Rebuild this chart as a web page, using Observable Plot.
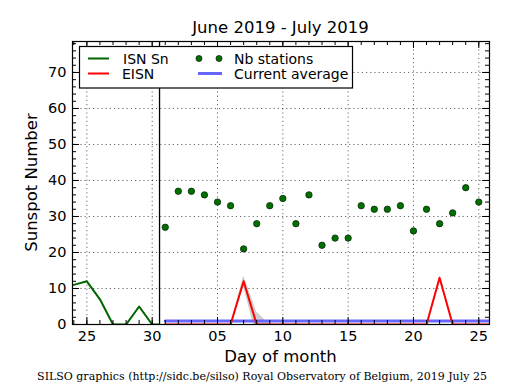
<!DOCTYPE html>
<html><head><meta charset="utf-8">
<script src="https://cdn.jsdelivr.net/npm/d3@7"></script>
<script src="https://cdn.jsdelivr.net/npm/@observablehq/plot@0.6"></script>
<style>body{margin:0;background:#fff;} svg{display:block;}</style>
</head><body><div id="chart"></div>
<script>
// ---- data ----
const isnDays = ["2019-06-24","2019-06-25","2019-06-26","2019-06-27","2019-06-28","2019-06-29","2019-06-30","2019-06-30T13:30"];
const isnValues = [11,12,7,0,0,5,0,0];
const eisnDays = d3.range(1,27).map(d => `2019-07-${String(d).padStart(2,"0")}`);
const eisnValues = [0,0,0,0,0,0,12,0,0,0,0,0,0,0,0,0,0,0,0,0,0,13,0,0,0,0];
const eisnErrors = [0,0,0,0,0,0,1.5,3.5,0,0,0,0,0,0,0,0,0,0,0,0,0,0.5,0,0,0,0];
const stationDays = d3.range(1,26).map(d => `2019-07-${String(d).padStart(2,"0")}`);
const stationValues = [27,37,37,36,34,33,21,28,33,35,28,36,22,24,24,33,32,32,33,26,32,28,31,38,34];
const currentAverage = 1;
const separatorDay = "2019-06-30T13:30";
const xTickDays = ["2019-06-25","2019-06-30","2019-07-05","2019-07-10","2019-07-15","2019-07-20","2019-07-25"];
const xTickLabels = ["25","30","05","10","15","20","25"];
const yTicks = [0,10,20,30,40,50,60,70];
const titleText = "June 2019 - July 2019";
const captionText = "SILSO graphics (http://sidc.be/silso) Royal Observatory of Belgium, 2019 July 25";

// ---- build ----
const P = s => new Date(s.length === 10 ? s + "T00:00Z" : s + "Z");
const isn = isnDays.map((d,i) => ({date: P(d), v: isnValues[i]}));
const eisn = eisnDays.map((d,i) => ({date: P(d), v: eisnValues[i], lo: eisnValues[i]-eisnErrors[i], hi: eisnValues[i]+eisnErrors[i]}));
const avg = eisnDays.map(d => ({date: P(d), v: currentAverage}));
const stations = stationDays.map((d,i) => ({date: P(d), v: stationValues[i]}));
const majors = xTickDays.map(P);
const minorDays = d3.utcDay.range(P("2019-06-24"), P("2019-07-26"));
const yMinor = d3.range(0, 79, 2);

const W = 515, H = 390, mL = 72, mR = 26, mT = 41, mB = 66;
const pw = W - mL - mR, ph = H - mT - mB;
const grid = {stroke: "#000", strokeWidth: 0.8, strokeOpacity: 0.75, strokeDasharray: "1.2,3"};

const plot = Plot.plot({
  width: W, height: H,
  marginLeft: mL, marginRight: mR, marginTop: mT, marginBottom: mB,
  style: {fontFamily: "DejaVu Sans", fontSize: "14.5px", color: "#000", background: "#fff"},
  x: {type: "utc", domain: [new Date(Date.UTC(2019,5,23,21,36)), new Date(Date.UTC(2019,6,25,19,40))], label: null},
  y: {domain: [0, 78.6], label: null},
  marks: [
    Plot.ruleY(yTicks.filter(d => d > 0), grid),
    Plot.ruleX(majors, grid),
    Plot.areaY(eisn, {x: "date", y1: "lo", y2: "hi", fill: "#bbbbbb", fillOpacity: 0.7, clip: true, curve: "linear"}),
    Plot.ruleX([P(separatorDay)], {stroke: "#000", strokeWidth: 1.3}),
    Plot.lineY(isn, {x: "date", y: "v", stroke: "#006400", strokeWidth: 2, clip: true}),
    Plot.lineY(avg, {x: "date", y: "v", stroke: "#6666ff", strokeWidth: 3, clip: true}),
    Plot.lineY(eisn, {x: "date", y: "v", stroke: "#ff0000", strokeWidth: 2, clip: true}),
    Plot.dot(stations, {x: "date", y: "v", r: 3.2, fill: "#007000", stroke: "#0b2a0b", strokeWidth: 0.8}),
    // ticks inside on all sides
    Plot.ruleX(minorDays, {insetTop: ph - 4, stroke: "#000"}),
    Plot.ruleX(minorDays, {insetBottom: ph - 4, stroke: "#000"}),
    Plot.ruleX(majors, {insetTop: ph - 7, stroke: "#000"}),
    Plot.ruleX(majors, {insetBottom: ph - 7, stroke: "#000"}),
    Plot.ruleY(yMinor, {insetRight: pw - 4, stroke: "#000"}),
    Plot.ruleY(yMinor, {insetLeft: pw - 4, stroke: "#000"}),
    Plot.ruleY(yTicks, {insetRight: pw - 7, stroke: "#000"}),
    Plot.ruleY(yTicks, {insetLeft: pw - 7, stroke: "#000"}),
    Plot.frame({stroke: "#000", strokeWidth: 1.2}),
    Plot.axisX(majors, {tickSize: 0, tickPadding: 6, tickFormat: d => xTickLabels[majors.findIndex(m => +m === +d)], label: null}),
    Plot.axisY(yTicks, {tickSize: 0, tickPadding: 6, label: null})
  ]
});
document.getElementById("chart").appendChild(plot);

// ---- texts & legend ----
const svg = d3.select(plot);
const cx = mL + pw / 2;
svg.append("text").attr("x", cx).attr("y", 33).attr("text-anchor", "middle")
  .style("font", "16.5px 'DejaVu Sans'").attr("fill", "#000").text(titleText);
svg.append("text").attr("x", cx).attr("y", 362).attr("text-anchor", "middle")
  .style("font", "16.5px 'DejaVu Sans'").attr("fill", "#000").text("Day of month");
svg.append("text").attr("transform", `translate(37,${mT + ph / 2}) rotate(-90)`).attr("text-anchor", "middle")
  .style("font", "16.5px 'DejaVu Sans'").attr("fill", "#000").text("Sunspot Number");
svg.append("text").attr("x", 262).attr("y", 380).attr("text-anchor", "middle")
  .style("font", "11px 'DejaVu Serif'").attr("fill", "#000").text(captionText);

const lg = svg.append("g").attr("text-anchor", "start");
lg.append("rect").attr("x", 79.5).attr("y", 46.5).attr("width", 273).attr("height", 41.5)
  .attr("fill", "#fff").attr("stroke", "#000").attr("stroke-width", 1.2);
const r1 = 58.5, r2 = 73.5;
lg.append("line").attr("x1", 88).attr("x2", 109).attr("y1", r1).attr("y2", r1).attr("stroke", "#006400").attr("stroke-width", 2);
lg.append("line").attr("x1", 88).attr("x2", 109).attr("y1", r2).attr("y2", r2).attr("stroke", "#ff0000").attr("stroke-width", 2);
[199, 219].forEach(x => lg.append("circle").attr("cx", x).attr("cy", r1).attr("r", 3).attr("fill", "#007000").attr("stroke", "#0b2a0b").attr("stroke-width", 0.8));
lg.append("line").attr("x1", 198).attr("x2", 222).attr("y1", r2).attr("y2", r2).attr("stroke", "#6666ff").attr("stroke-width", 3);
const lt = (x, y, s) => lg.append("text").attr("x", x).attr("y", y).attr("dy", "0.36em").attr("text-anchor", "start")
  .style("font", "14px 'DejaVu Sans'").attr("fill", "#000").text(s);
lt(123, r1, "ISN Sn"); lt(122, r2, "EISN"); lt(234, r1, "Nb stations"); lt(234, r2, "Current average");
</script></body></html>
